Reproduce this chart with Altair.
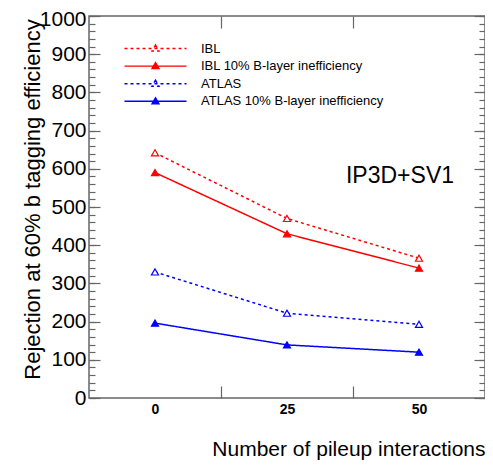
import altair as alt
import pandas as pd

# ---- data ----
pileup = [0, 25, 50]
series_names = ["IBL", "IBL 10% B-layer inefficiency", "ATLAS", "ATLAS 10% B-layer inefficiency"]
ibl = [642, 470, 366]
ibl_ineff = [590, 430, 340]
atlas = [330, 222, 193]
atlas_ineff = [196, 139, 120]

stroke_colors = ["#ff0000", "#ff0000", "#0000ff", "#0000ff"]
fill_colors = ["white", "#ff0000", "white", "#0000ff"]
dashes = [[3, 3], [1, 0], [3, 3], [1, 0]]

x_domain = [-12.5, 62.5]
y_domain = [0, 1000]
y_major = list(range(0, 1001, 100))
y_minor = list(range(0, 1001, 20))
x_bin_edges = [12.5, 37.5]

annotation_text = ["IP3D+SV1"]
annotation_x = [46.4]
annotation_y = [582]

FONT = "Liberation Sans"
W, H = 396, 382
FRAME = "#666666"

rows = []
for name, vals in zip(series_names, [ibl, ibl_ineff, atlas, atlas_ineff]):
    for p, v in zip(pileup, vals):
        rows.append({"pileup": p, "value": v, "series": name})
df = pd.DataFrame(rows)
ann = pd.DataFrame({"text": annotation_text, "x": annotation_x, "y": annotation_y})

xs = alt.Scale(domain=x_domain, nice=False, zero=False)
ys = alt.Scale(domain=y_domain, nice=False, zero=False)

sym_path = "M-6.2,0H6.2M0,-0.7L0.7,0.5L-0.7,0.5Z"
legend = alt.Legend(
    title=None, orient="none", legendX=60, legendY=26,
    symbolType=sym_path, symbolSize=100, symbolStrokeWidth=1.4,
    labelFont=FONT, labelFontSize=13, labelColor="black", labelOffset=39,
    rowPadding=3.6, padding=0, labelLimit=400,
)
stroke_enc = alt.Stroke("series:N", scale=alt.Scale(domain=series_names, range=stroke_colors), legend=legend)
dash_enc = alt.StrokeDash("series:N", scale=alt.Scale(domain=series_names, range=dashes), legend=legend)
fill_enc = alt.Fill("series:N", scale=alt.Scale(domain=series_names, range=fill_colors), legend=legend)

base = alt.Chart(df)

lines = base.mark_line(strokeWidth=1.5).encode(
    x=alt.X("pileup:Q", scale=xs, axis=alt.Axis(
        values=pileup, ticks=False, domain=False, grid=False, format="d",
        labelFont=FONT, labelFontSize=14, labelFontWeight="bold", labelColor="black", labelPadding=4,
        title="Number of pileup interactions", titleFont=FONT, titleFontSize=21,
        titleFontWeight="normal", titleColor="black", titleAlign="right", titleAnchor="end",
        titleX=W, titleY=57, titleBaseline="alphabetic")),
    y=alt.Y("value:Q", scale=ys, axis=alt.Axis(
        values=y_major, ticks=False, domain=False, grid=False, format="d",
        labelFont=FONT, labelFontSize=21, labelColor="black", labelPadding=3,
        labelOffset={"condition": {"test": "datum.value === 1000", "value": 3}, "value": 0},
        title="Rejection at 60% b tagging efficiency", titleFont=FONT, titleFontSize=22,
        titleFontWeight="normal", titleColor="black", titleAngle=270, titleAlign="center",
        titleBaseline="alphabetic", titleX=-50, titleY=183)),
    stroke=stroke_enc,
    strokeDash=dash_enc,
    detail="series:N",
)

points = base.mark_point(shape="triangle-up", size=50, strokeWidth=1.2, opacity=1).encode(
    x=alt.X("pileup:Q", scale=xs, axis=None),
    y=alt.Y("value:Q", scale=ys, axis=None),
    stroke=stroke_enc,
    fill=fill_enc,
)

def tick_layer(y_orient, y_vals, y_size, x_orient=None, x_size=12):
    yax = alt.Axis(orient=y_orient, offset=-W, values=y_vals, tickSize=y_size, labels=False,
                   domain=False, grid=False, title=None, tickColor=FRAME, tickWidth=1.2)
    if x_orient is None:
        xax = None
    else:
        xax = alt.Axis(orient=x_orient, offset=-H, values=x_bin_edges, tickSize=x_size, labels=False,
                       domain=False, grid=False, title=None, tickColor=FRAME, tickWidth=1.2)
    return base.mark_point(opacity=0).encode(
        x=alt.X("pileup:Q", scale=xs, axis=xax),
        y=alt.Y("value:Q", scale=ys, axis=yax),
    )

t1 = tick_layer("right", y_major, 11, "top", 12)
t2 = tick_layer("right", y_minor, 6, "bottom", 12)
t3 = tick_layer("left", y_major, 11)
t4 = tick_layer("left", y_minor, 6)

label = alt.Chart(ann).mark_text(font=FONT, fontSize=23, color="black").encode(
    x=alt.X("x:Q", scale=xs, axis=None),
    y=alt.Y("y:Q", scale=ys, axis=None),
    text="text:N",
)

chart = alt.layer(t1, t2, t3, t4, lines, points, label).resolve_scale(
    x="independent", y="independent"
).resolve_axis(
    x="independent", y="independent"
).properties(
    width=W, height=H,
    autosize=alt.AutoSizeParams(type="none"),
    padding={"left": 81, "top": 8, "right": 0, "bottom": 67},
    background="white",
).configure_view(
    stroke=FRAME, strokeWidth=1.5
)

chart.save("out.html", embed_options={"renderer": "svg", "actions": False})
